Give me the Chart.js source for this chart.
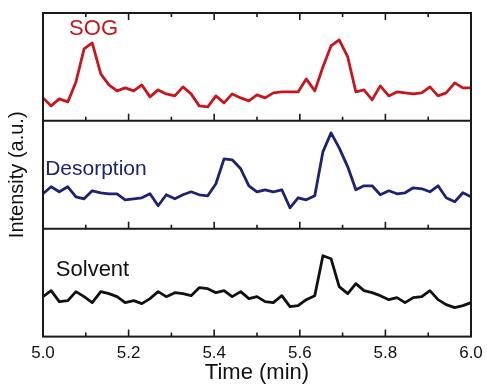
<!DOCTYPE html>
<html>
<head>
<meta charset="utf-8">
<script src="https://cdn.jsdelivr.net/npm/chart.js@4"></script>
<style>
  html, body { margin: 0; padding: 0; background: #fff; }
  #wrap { width: 487px; height: 384px; }
</style>
</head>
<body>
<div id="wrap"><canvas id="chart"></canvas></div>
<script>
// time axis (min), shared by the three traces
const TIMES = [5.000, 5.019, 5.038, 5.058, 5.077, 5.096, 5.115, 5.135, 5.154, 5.173,
  5.192, 5.212, 5.231, 5.250, 5.269, 5.288, 5.308, 5.327, 5.346, 5.365,
  5.385, 5.404, 5.423, 5.442, 5.462, 5.481, 5.500, 5.519, 5.538, 5.558,
  5.577, 5.596, 5.615, 5.635, 5.654, 5.673, 5.692, 5.712, 5.731, 5.750,
  5.769, 5.788, 5.808, 5.827, 5.846, 5.865, 5.885, 5.904, 5.923, 5.942,
  5.962, 5.981, 6.000];

// intensity (a.u.), each panel 0..108
const SOG = [23, 15, 22, 19, 39, 72, 78, 47, 36, 30, 33, 30, 36, 24, 31, 27, 25, 34, 27, 15,
  14, 25, 18, 27, 23, 20, 26, 23, 28, 29, 29, 29, 42, 30, 54, 75, 81, 64, 29, 31,
  21, 35, 25, 29, 28, 27, 28, 34, 25, 28, 38, 33, 33];
const DESORPTION = [35, 42, 37, 42, 32, 30, 38, 36, 35, 35, 29, 30, 31, 35, 23, 34, 30, 34, 37, 34,
  33, 45, 70, 69, 60, 43, 37, 39, 37, 39, 21, 31, 29, 33, 77, 96, 81, 62, 39, 43,
  43, 34, 38, 35, 36, 41, 40, 37, 43, 31, 27, 36, 32];
const SOLVENT = [40, 46, 35, 36, 45, 40, 34, 45, 43, 40, 34, 36, 33, 38, 45, 40, 44, 43, 41, 49,
  48, 44, 46, 40, 45, 38, 40, 35, 34, 41, 30, 31, 37, 41, 81, 78, 50, 43, 53, 46,
  44, 41, 37, 39, 34, 39, 40, 46, 37, 32, 29, 31, 34];

const SERIES_NAMES = ['SOG', 'Desorption', 'Solvent'];
const X_MIN = 5.0, X_MAX = 6.0;
const PANEL_MAX = 108;

const FONT = '"Liberation Sans", Arial, sans-serif';

function toPoints(values) {
  return values.map((v, i) => ({ x: TIMES[i], y: v }));
}

// frame, inward ticks and panel names
const panelPlugin = {
  id: 'panels',
  afterDatasetsDraw(chart) {
    const ctx = chart.ctx;
    const area = chart.chartArea;
    const xs = chart.scales.x;
    const ys = [chart.scales.y1, chart.scales.y2, chart.scales.y3];
    const seps = [ys[0].getPixelForValue(0), ys[2].getPixelForValue(PANEL_MAX)];

    ctx.save();
    ctx.strokeStyle = '#1a1a1a';
    ctx.lineWidth = 2;
    ctx.strokeRect(area.left, area.top, area.right - area.left, area.bottom - area.top);
    seps.forEach(y => {
      ctx.beginPath();
      ctx.moveTo(area.left, y);
      ctx.lineTo(area.right, y);
      ctx.stroke();
    });

    // ticks: down from top edge, up from each separator and the bottom edge
    ctx.lineWidth = 1.6;
    xs.ticks.forEach(t => {
      if (t.value <= X_MIN + 1e-6 || t.value >= X_MAX - 1e-6) return;
      const px = xs.getPixelForValue(t.value);
      const major = Math.round(t.value * 10) % 2 === 0;
      const len = major ? 7 : 4;
      ctx.beginPath();
      ctx.moveTo(px, area.top);
      ctx.lineTo(px, area.top + len);
      [seps[0], seps[1], area.bottom].forEach(y => {
        ctx.moveTo(px, y);
        ctx.lineTo(px, y - len);
      });
      ctx.stroke();
    });

    ctx.textBaseline = 'middle';
    ctx.textAlign = 'left';
    const labelSpots = [
      { x: 5.061, y: 92, size: 22, color: '#c8161d' },
      { x: 5.005, y: 60, size: 21, color: '#1c2370' },
      { x: 5.030, y: 67, size: 22, color: '#111111' }
    ];
    labelSpots.forEach((s, i) => {
      ctx.font = s.size + 'px ' + FONT;
      ctx.fillStyle = s.color;
      ctx.fillText(SERIES_NAMES[i], xs.getPixelForValue(s.x), ys[i].getPixelForValue(s.y));
    });
    ctx.restore();
  }
};

new Chart(document.getElementById('chart'), {
  type: 'line',
  data: {
    datasets: [
      { label: SERIES_NAMES[0], data: toPoints(SOG), yAxisID: 'y1', borderColor: '#c8161d' },
      { label: SERIES_NAMES[1], data: toPoints(DESORPTION), yAxisID: 'y2', borderColor: '#1c2370' },
      { label: SERIES_NAMES[2], data: toPoints(SOLVENT), yAxisID: 'y3', borderColor: '#111111' }
    ]
  },
  options: {
    responsive: true,
    maintainAspectRatio: false,
    animation: false,
    layout: { padding: { left: 5, right: 16, top: 13, bottom: 0 } },
    elements: {
      line: { borderWidth: 2.8, tension: 0, borderJoinStyle: 'round', borderCapStyle: 'round' },
      point: { radius: 0 }
    },
    plugins: {
      legend: { display: false },
      tooltip: { enabled: false }
    },
    scales: {
      x: {
        type: 'linear',
        min: X_MIN,
        max: X_MAX,
        afterFit: s => { s.paddingLeft = 0; s.paddingRight = 0; },
        grid: { display: false, drawTicks: false },
        border: { display: false },
        ticks: {
          stepSize: 0.1,
          autoSkip: false,
          maxRotation: 0,
          padding: 7,
          color: '#111',
          font: { family: FONT, size: 17 },
          callback: v => (Math.round(v * 10) % 2 === 0 ? v.toFixed(1) : '')
        },
        title: {
          display: true,
          text: 'Time (min)',
          color: '#111',
          font: { family: FONT, size: 22, lineHeight: 1 },
          padding: { top: -9, bottom: 0 }
        }
      },
      // each trace gets a third of the plot height
      y1: {
        position: 'left',
        min: -2 * PANEL_MAX,
        max: PANEL_MAX,
        grid: { display: false, drawTicks: false },
        border: { display: false },
        ticks: { display: false },
        title: {
          display: true,
          text: 'Intensity (a.u.)',
          color: '#111',
          font: { family: FONT, size: 20 },
          padding: { top: 0, bottom: 14 }
        }
      },
      y2: { display: false, min: -PANEL_MAX, max: 2 * PANEL_MAX },
      y3: { display: false, min: 0, max: 3 * PANEL_MAX }
    }
  },
  plugins: [panelPlugin]
});
</script>
</body>
</html>
